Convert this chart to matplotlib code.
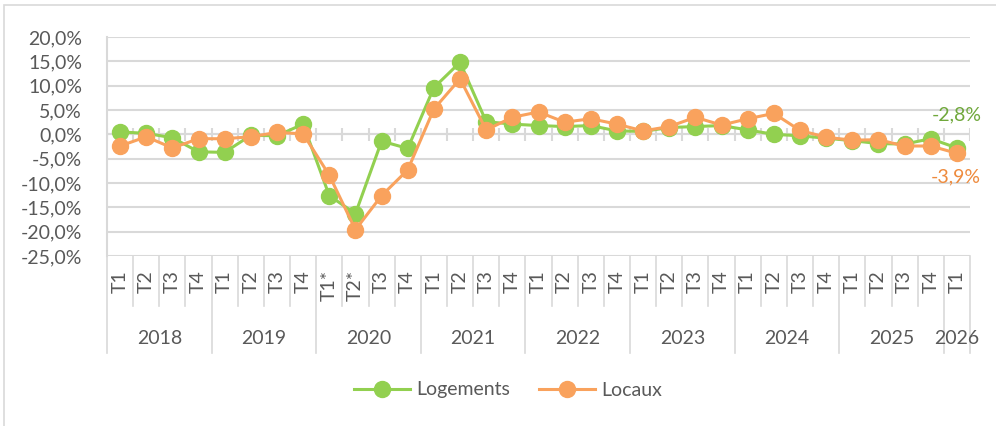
import numpy as np
import matplotlib
matplotlib.use("Agg")
import matplotlib.pyplot as plt
from matplotlib.lines import Line2D
from matplotlib.patches import Rectangle

plt.rcParams['font.family'] = ['Lato', 'DejaVu Sans']

years = ["2018", "2019", "2020", "2021", "2022", "2023", "2024", "2025", "2026"]
quarters = (["T1", "T2", "T3", "T4"] * 2 + ["T1*", "T2*", "T3", "T4"]
            + ["T1", "T2", "T3", "T4"] * 5 + ["T1"])
year_sizes = [4, 4, 4, 4, 4, 4, 4, 4, 1]

logements = [0.5, 0.2, -0.7, -3.6, -3.7, -0.2, -0.3, 2.1, -12.6, -16.3, -1.4, -2.9,
             9.6, 14.8, 2.6, 2.1, 1.8, 1.6, 1.8, 0.7, 0.6, 1.4, 1.6, 1.8,
             0.9, 0.0, -0.3, -0.8, -1.3, -1.9, -2.0, -0.9, -2.8]
locaux = [-2.4, -0.5, -2.8, -0.9, -0.9, -0.5, 0.4, 0.1, -8.4, -19.6, -12.6, -7.3,
          5.2, 11.4, 0.9, 3.5, 4.6, 2.5, 3.2, 2.1, 0.7, 1.6, 3.5, 1.9,
          3.2, 4.3, 0.8, -0.6, -1.2, -1.1, -2.4, -2.4, -3.9]

green = '#92D050'
orange = '#F9A25D'
grid_c = '#D9D9D9'
txt_c = '#595959'
fs = 14

W, H = 996, 426
fig = plt.figure(figsize=(W / 100, H / 100), dpi=100)
fig.patches.append(Rectangle((4 / W, -0.1), 1.1, 1 - 5 / H + 0.1, transform=fig.transFigure,
                             fill=False, edgecolor=grid_c, linewidth=1.2))

x0, x1, ytop, ybot = 107, 970, 37, 256
ax = fig.add_axes([x0 / W, 1 - ybot / H, (x1 - x0) / W, (ybot - ytop) / H])
n = len(quarters)
x = np.arange(n)
ax.set_xlim(-0.5, n - 0.5)
ax.set_ylim(-25, 20)
ax.set_yticks(np.arange(-25, 21, 5))
ax.set_yticklabels([f"{v:.1f}%".replace('.', ',') for v in np.arange(-25, 21, 5)],
                   fontsize=fs, color=txt_c)
ax.tick_params(axis='y', length=0, pad=18)
ax.set_xticks([])
ax.yaxis.grid(True, color=grid_c, linewidth=1.5)
ax.set_axisbelow(True)
for s in ['top', 'right', 'bottom']:
    ax.spines[s].set_visible(False)
ax.spines['left'].set_color(grid_c)
ax.spines['left'].set_linewidth(1.5)

# axis at zero with cross tick marks
bounds = np.arange(n + 1) - 0.5
ax.axhline(0, color=grid_c, linewidth=1.5, zorder=1)
ax.vlines(bounds, -1.3, 1.3, color=grid_c, linewidth=1.5, zorder=1)

ax.plot(x, logements, color=green, linewidth=2.2, marker='o', markersize=11.5, zorder=3)
ax.plot(x, locaux, color=orange, linewidth=2.2, marker='o', markersize=11.5, zorder=4)

ax.annotate("-2,8%", (x[-1], logements[-1]), xytext=(0, 24), textcoords='offset points',
            ha='center', va='center', fontsize=fs, color='#70A83C')
ax.annotate("-3,9%", (x[-1], locaux[-1]), xytext=(-1, -17), textcoords='offset points',
            ha='center', va='center', fontsize=fs, color='#EE8A3C')

# multi-level category axis
ph = ybot - ytop
tr = ax.get_xaxis_transform()
short = -(306 - ybot) / ph
long_ = -(353 - ybot) / ph
year_bounds = np.concatenate([[0], np.cumsum(year_sizes)]) - 0.5
for b in bounds:
    yb = long_ if np.isclose(year_bounds, b).any() else short
    ax.plot([b, b], [0, yb], transform=tr, color=grid_c, linewidth=1.2, clip_on=False)
for i, q in enumerate(quarters):
    ax.text(i, -(270 - ybot) / ph, q, transform=tr, rotation=90, ha='center', va='top',
            fontsize=fs, color=txt_c)
for k, yr in enumerate(years):
    c = (year_bounds[k] + year_bounds[k + 1]) / 2
    ax.text(c, -(339 - ybot) / ph, yr, transform=tr, ha='center', va='center',
            fontsize=fs, color=txt_c)

handles = [Line2D([], [], color=green, linewidth=2.2, marker='o', markersize=11.5),
           Line2D([], [], color=orange, linewidth=2.2, marker='o', markersize=11.5)]
fig.legend(handles, ["Logements", "Locaux"], loc='center', bbox_to_anchor=(508 / W, 1 - 390 / H),
           ncol=2, frameon=False, fontsize=fs, labelcolor=txt_c, handlelength=2.9,
           columnspacing=1.5, handletextpad=0.3)

fig.savefig("out.png", dpi=100)
